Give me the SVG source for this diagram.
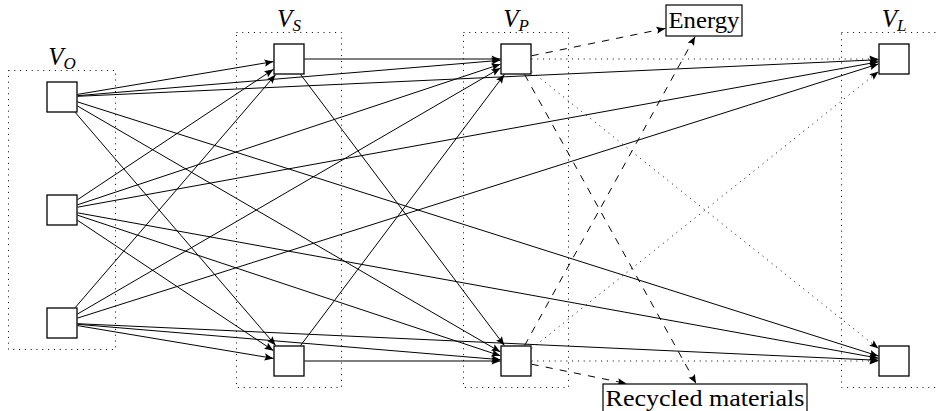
<svg xmlns="http://www.w3.org/2000/svg" width="938" height="411" viewBox="0 0 938 411">
<style>
.bg{fill:#fff}
.node{fill:#fff;stroke:#000;stroke-width:1.3}
.box{fill:#fff;stroke:#000;stroke-width:1.2}
.cont{fill:none;stroke:#000;stroke-width:1;stroke-dasharray:1 4.8}
.e{fill:none;stroke:#000;stroke-width:1}
.dot{stroke-dasharray:1 4.8}
.dash{stroke-dasharray:7.2 7.2}
.lab{font-family:"Liberation Serif","Times New Roman",serif;font-style:italic;font-size:25px;fill:#000}
.sub{font-size:17px}
.txt{font-family:"Liberation Serif","Times New Roman",serif;font-size:23px;fill:#000}
</style>
<defs>
<marker id="ah" markerUnits="userSpaceOnUse" markerWidth="12" markerHeight="10" refX="0" refY="0" orient="auto" overflow="visible">
<path d="M0,0 C-3,-1 -6,-2.3 -9,-3.6 L-7.5,0 L-9,3.6 C-6,2.3 -3,1 0,0 Z" fill="#000" stroke="none"/>
</marker>
</defs>
<rect class="bg" x="0" y="0" width="938" height="411"/>

<g id="containers">
<rect class="cont" x="8.5" y="70.5" width="107" height="279"/>
<rect class="cont" x="236.5" y="32.5" width="105" height="355"/>
<rect class="cont" x="463.5" y="32.5" width="105" height="355"/>
<rect class="cont" x="841.5" y="32.5" width="110" height="355"/>
<text class="lab" x="62" y="65" text-anchor="middle">V<tspan class="sub" dy="4">O</tspan></text>
<text class="lab" x="289" y="27" text-anchor="middle">V<tspan class="sub" dy="4">S</tspan></text>
<text class="lab" x="516" y="27" text-anchor="middle">V<tspan class="sub" dy="4">P</tspan></text>
<text class="lab" x="894" y="27" text-anchor="middle">V<tspan class="sub" dy="4">L</tspan></text>
</g>

<g id="connectors">
<line class="e" x1="77.5" y1="94.4" x2="273.5" y2="61.6" marker-end="url(#ah)"/>
<line class="e" x1="77.5" y1="95.7" x2="500.5" y2="60.3" marker-end="url(#ah)"/>
<line class="e" x1="77.5" y1="96.3" x2="878.5" y2="59.7" marker-end="url(#ah)"/>
<line class="e" x1="75.3" y1="112.5" x2="275.7" y2="345.5" marker-end="url(#ah)"/>
<line class="e" x1="77.5" y1="106" x2="500.5" y2="352" marker-end="url(#ah)"/>
<line class="e" x1="77.5" y1="101.9" x2="878.5" y2="356.1" marker-end="url(#ah)"/>

<line class="e" x1="77.5" y1="199.7" x2="273.5" y2="69.3" marker-end="url(#ah)"/>
<line class="e" x1="77.5" y1="204.8" x2="500.5" y2="64.2" marker-end="url(#ah)"/>
<line class="e" x1="77.5" y1="207.2" x2="878.5" y2="61.8" marker-end="url(#ah)"/>
<line class="e" x1="77.5" y1="220.3" x2="273.5" y2="350.7" marker-end="url(#ah)"/>
<line class="e" x1="77.5" y1="215.2" x2="500.5" y2="355.8" marker-end="url(#ah)"/>
<line class="e" x1="77.5" y1="212.8" x2="878.5" y2="358.2" marker-end="url(#ah)"/>

<line class="e" x1="75.3" y1="307.5" x2="275.7" y2="74.5" marker-end="url(#ah)"/>
<line class="e" x1="77.5" y1="314" x2="500.5" y2="68" marker-end="url(#ah)"/>
<line class="e" x1="77.5" y1="318.1" x2="878.5" y2="63.9" marker-end="url(#ah)"/>
<line class="e" x1="77.5" y1="325.6" x2="273.5" y2="358.4" marker-end="url(#ah)"/>
<line class="e" x1="77.5" y1="324.3" x2="500.5" y2="359.7" marker-end="url(#ah)"/>
<line class="e" x1="77.5" y1="323.7" x2="878.5" y2="360.3" marker-end="url(#ah)"/>

<line class="e" x1="304.5" y1="59" x2="500.5" y2="59" marker-end="url(#ah)"/>
<line class="e" x1="300.6" y1="74.5" x2="504.4" y2="345.5" marker-end="url(#ah)"/>
<line class="e" x1="300.6" y1="345.5" x2="504.4" y2="74.5" marker-end="url(#ah)"/>
<line class="e" x1="304.5" y1="361" x2="500.5" y2="361" marker-end="url(#ah)"/>

<line class="e dot" x1="531.5" y1="59" x2="878.5" y2="59" marker-end="url(#ah)"/>
<line class="e dot" x1="531.5" y1="71.4" x2="878.5" y2="348.6" marker-end="url(#ah)"/>
<line class="e dot" x1="531.5" y1="348.6" x2="878.5" y2="71.4" marker-end="url(#ah)"/>
<line class="e dot" x1="531.5" y1="361" x2="878.5" y2="361" marker-end="url(#ah)"/>

<line class="e dash" x1="531.5" y1="55.8" x2="665.5" y2="28.4" marker-end="url(#ah)"/>
<line class="e dash" x1="524.6" y1="74.5" x2="696.1" y2="383.5" marker-end="url(#ah)"/>
<line class="e dash" x1="524.6" y1="345.5" x2="695.2" y2="36.5" marker-end="url(#ah)"/>
<line class="e dash" x1="531.5" y1="364.2" x2="626.5" y2="383.5" marker-end="url(#ah)"/>
</g>

<g id="O1"><rect class="node" x="47" y="82" width="30" height="30"/></g>
<g id="O2"><rect class="node" x="47" y="195" width="30" height="30"/></g>
<g id="O3"><rect class="node" x="47" y="308" width="30" height="30"/></g>
<g id="S1"><rect class="node" x="274" y="44" width="30" height="30"/></g>
<g id="S2"><rect class="node" x="274" y="346" width="30" height="30"/></g>
<g id="P1"><rect class="node" x="501" y="44" width="30" height="30"/></g>
<g id="P2"><rect class="node" x="501" y="346" width="30" height="30"/></g>
<g id="L1"><rect class="node" x="879" y="44" width="30" height="30"/></g>
<g id="L2"><rect class="node" x="879" y="346" width="30" height="30"/></g>
<g id="energy"><rect class="box" x="666" y="5" width="76" height="31"/><text class="txt" x="704" y="28" text-anchor="middle" textLength="71" lengthAdjust="spacingAndGlyphs">Energy</text></g>
<g id="recycled"><rect class="box" x="603" y="384" width="204" height="31"/><text class="txt" x="705" y="406" text-anchor="middle" textLength="199" lengthAdjust="spacingAndGlyphs">Recycled materials</text></g>
</svg>
